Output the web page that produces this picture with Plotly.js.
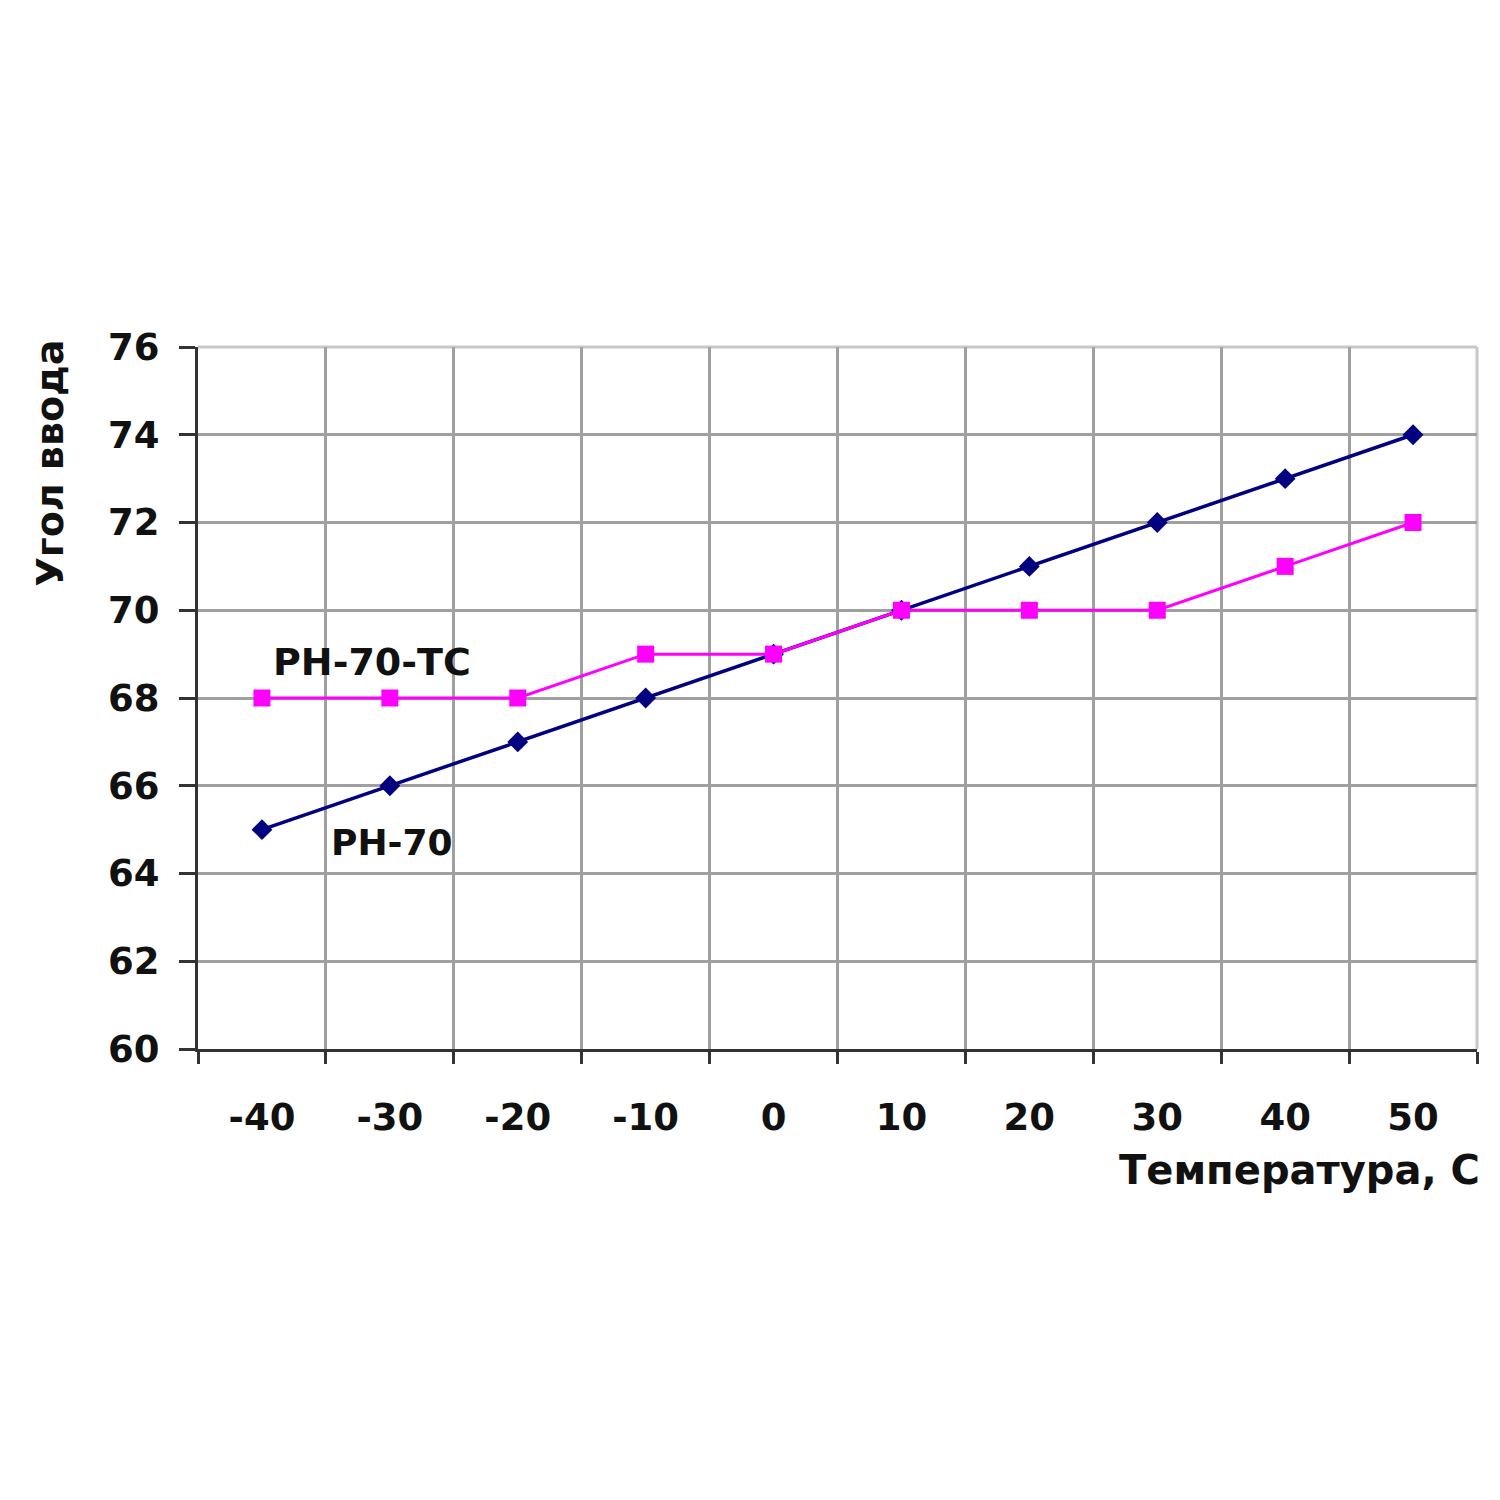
<!DOCTYPE html>
<html>
<head>
<meta charset="utf-8">
<script src="https://cdn.plot.ly/plotly-3.0.1.min.js"></script>
<style>html,body{margin:0;padding:0;background:#fff;}#chart{width:1500px;height:1500px;}</style>
</head>
<body>
<div id="chart"></div>
<script>
const categories = ["-40", "-30", "-20", "-10", "0", "10", "20", "30", "40", "50"];
const rh70 = [65, 66, 67, 68, 69, 70, 71, 72, 73, 74];
const rh70tc = [68, 68, 68, 69, 69, 70, 70, 70, 71, 72];
const seriesNames = ["РН-70", "РН-70-ТС"];
const yTicks = [60, 62, 64, 66, 68, 70, 72, 74, 76];

const FONT = "DejaVu Sans";
const traces = [
  {
    x: categories, y: rh70, name: seriesNames[0], type: "scatter", mode: "lines+markers",
    line: {color: "#000080", width: 3.5},
    marker: {symbol: "diamond", size: 16, color: "#000080"}
  },
  {
    x: categories, y: rh70tc, name: seriesNames[1], type: "scatter", mode: "lines+markers",
    line: {color: "#ff00ff", width: 3},
    marker: {symbol: "square", size: 17, color: "#ff00ff"}
  }
];

const layout = {
  width: 1500, height: 1500,
  paper_bgcolor: "#ffffff", plot_bgcolor: "#ffffff",
  showlegend: false,
  margin: {l: 198, r: 23, t: 347, b: 451},
  font: {family: FONT, color: "#111", size: 36},
  xaxis: {
    type: "category",
    categoryorder: "array", categoryarray: categories,
    tickson: "boundaries",
    range: [-0.5, 9.5],
    showgrid: true, gridcolor: "#a0a0a0", gridwidth: 3,
    showline: true, linecolor: "#333333", linewidth: 3,
    ticks: "outside", ticklen: 12, tickwidth: 3, tickcolor: "#333333",
    tickfont: {family: FONT, size: 37, color: "#111", weight: "bold"},
    ticklabelstandoff: 34,
    zeroline: false, fixedrange: true
  },
  yaxis: {
    range: [60, 76],
    tickvals: yTicks, ticktext: yTicks.map(String),
    showgrid: true, gridcolor: "#a0a0a0", gridwidth: 3,
    showline: true, linecolor: "#333333", linewidth: 3,
    ticks: "outside", ticklen: 16, tickwidth: 3, tickcolor: "#333333",
    tickfont: {family: FONT, size: 37, color: "#111", weight: "bold"},
    ticklabelstandoff: 12,
    zeroline: false, fixedrange: true
  },
  annotations: [
    {text: "Угол ввода", xref: "paper", yref: "paper", x: -0.116, y: 0.835,
     textangle: -90, showarrow: false, xanchor: "center", yanchor: "middle",
     font: {family: FONT, size: 38, color: "#111", weight: "bold"}},
    {text: "Температура, С", xref: "paper", yref: "paper", x: 1.004, y: -0.172,
     showarrow: false, xanchor: "right", yanchor: "middle",
     font: {family: FONT, size: 40, color: "#111", weight: "bold"}},
    {text: seriesNames[1], xref: "x", yref: "y", x: 0.86, y: 68.82,
     showarrow: false, xanchor: "center", yanchor: "middle",
     font: {family: FONT, size: 38, color: "#111", weight: "bold"}},
    {text: seriesNames[0], xref: "x", yref: "y", x: 1.02, y: 64.7,
     showarrow: false, xanchor: "center", yanchor: "middle",
     font: {family: FONT, size: 36, color: "#111", weight: "bold"}}
  ],
  shapes: [
    {type: "line", xref: "paper", yref: "paper", x0: 0, x1: 1, y0: 1, y1: 1,
     line: {color: "#c8c8c8", width: 3}, layer: "below"},
    {type: "line", xref: "paper", yref: "paper", x0: 1, x1: 1, y0: 0, y1: 1,
     line: {color: "#c8c8c8", width: 3}, layer: "below"}
  ]
};

Plotly.newPlot("chart", traces, layout, {displayModeBar: false, staticPlot: true});
</script>
</body>
</html>
